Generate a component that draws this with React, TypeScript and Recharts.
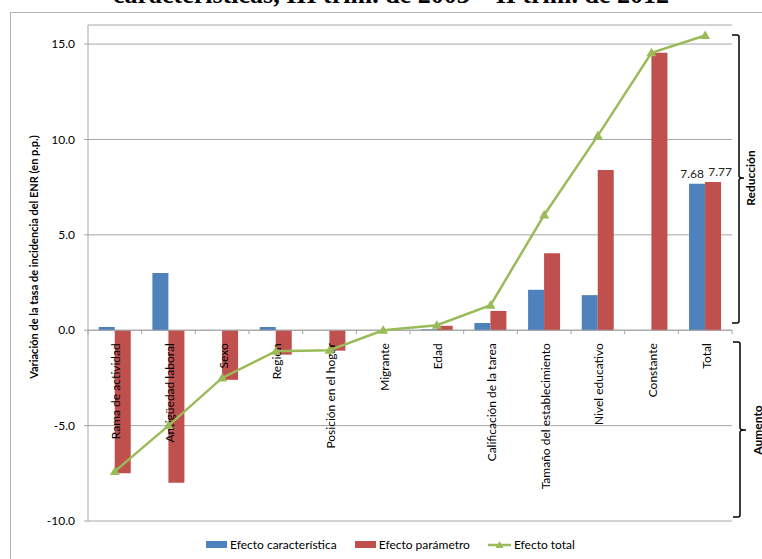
import React from 'react';
import { ComposedChart, Bar, Line, XAxis, YAxis, CartesianGrid, ReferenceLine, LabelList } from 'recharts';

const categories = [
  'Rama de actividad',
  'Antigüedad laboral',
  'Sexo',
  'Región',
  'Posición en el hogar',
  'Migrante',
  'Edad',
  'Calificación de la tarea',
  'Tamaño del establecimiento',
  'Nivel educativo',
  'Constante',
  'Total',
];
const efectoCaracteristica = [0.17, 3.0, 0.0, 0.17, 0.0, 0.0, 0.05, 0.38, 2.12, 1.84, 0.0, 7.68];
const efectoParametro = [-7.5, -8.0, -2.6, -1.28, -1.07, 0.0, 0.23, 1.01, 4.04, 8.4, 14.54, 7.77];
const efectoTotal = [-7.4, -5.0, -2.5, -1.1, -1.05, 0.0, 0.26, 1.31, 6.04, 10.2, 14.54, 15.45];
const etiquetaCaracteristica = [null, null, null, null, null, null, null, null, null, null, null, 7.68];
const etiquetaParametro = [null, null, null, null, null, null, null, null, null, null, null, 7.77];
const yTicks = [-10, -5, 0, 5, 10, 15];

const data = categories.map((name, i) => ({
  name,
  car: efectoCaracteristica[i],
  par: efectoParametro[i],
  total: efectoTotal[i],
  carLabel: etiquetaCaracteristica[i],
  parLabel: etiquetaParametro[i],
}));

const FONT = 'Lato, "Liberation Sans", sans-serif';
const BLUE = '#4F81BD';
const RED = '#C0504D';
const GREEN = '#9BBB59';
const GRID = '#a6a6a6';

const legendItems = [
  { label: 'Efecto característica', color: BLUE, kind: 'rect' },
  { label: 'Efecto parámetro', color: RED, kind: 'rect' },
  { label: 'Efecto total', color: GREEN, kind: 'line' },
];

const Triangle = (props: any) => {
  const { cx, cy } = props;
  if (cx == null || cy == null) return null;
  return <path d={`M${cx},${cy - 5} L${cx + 5},${cy + 3.5} L${cx - 5},${cy + 3.5} Z`} fill={GREEN} />;
};

// category names + boundary ticks hang off the zero line
const CategoryAxis = (props: any) => {
  const vb = props.viewBox;
  if (!vb) return null;
  const step = vb.width / categories.length;
  const y0 = vb.y;
  return (
    <g>
      {categories.map((_, i) => (
        <line key={'t' + i} x1={vb.x + step * i} x2={vb.x + step * i} y1={y0} y2={y0 + 4} stroke={GRID} />
      ))}
      <line x1={vb.x + vb.width} x2={vb.x + vb.width} y1={y0} y2={y0 + 4} stroke={GRID} />
      {categories.map((c, i) => (
        <text
          key={c}
          transform={`translate(${vb.x + step * (i + 0.5) + 1},${y0 + 13}) rotate(-90)`}
          textAnchor="end"
          dominantBaseline="central"
          fontSize={12}
          fontFamily={FONT}
          fill="#000"
        >
          {c}
        </text>
      ))}
    </g>
  );
};

const topLabel = (dx: number) => (props: any) => {
  const { x, y, width, value } = props;
  if (value == null) return null;
  return (
    <text x={x + width / 2 + dx} y={y - 6} textAnchor="middle" fontSize={12} fontFamily={FONT} fill="#222">
      {Number(value).toFixed(2)}
    </text>
  );
};

const YTitle = (props: any) => {
  const vb = props.viewBox;
  const cx = 33;
  const cy = vb.y + vb.height / 2 - 16;
  return (
    <text
      transform={`translate(${cx},${cy}) rotate(-90)`}
      textAnchor="middle"
      dominantBaseline="central"
      fontSize={11}
      fontWeight="bold"
      fontFamily={FONT}
      fill="#000"
    >
      Variación de la tasa de incidencia del ENR (en p.p.)
    </text>
  );
};

const Brace = ({ x0, x, top, bottom, mid, tip }: any) => (
  <path
    d={`M${x0},${top} L${x - 2},${top} Q${x},${top} ${x},${top + 2} L${x},${mid - 2} Q${x},${mid} ${tip},${mid} Q${x},${mid} ${x},${mid + 2} L${x},${bottom - 2} Q${x},${bottom} ${x - 2},${bottom} L${x0},${bottom}`}
    fill="none"
    stroke="#000"
    strokeWidth={1.5}
  />
);

export default function App() {
  return (
    <div style={{ position: 'absolute', left: 0, top: 0, width: 762, height: 559, overflow: 'hidden', background: '#fff' }}>
      <div
        style={{
          position: 'absolute',
          left: 0,
          width: 762,
          top: -20,
          textAlign: 'center',
          fontFamily: '"Liberation Serif", serif',
          fontWeight: 'bold',
          fontSize: 26,
          lineHeight: '30px',
          whiteSpace: 'nowrap',
          paddingLeft: 10,
        }}
      >
        características, III trim. de 2003 – II trim. de 2012
      </div>
      <div style={{ position: 'absolute', left: 10, top: 12, width: 800, height: 600, border: '1px solid #b0b0b0' }} />
      <div style={{ position: 'absolute', left: 0, top: 0 }}>
        <ComposedChart
          width={762}
          height={559}
          data={data}
          margin={{ top: 25, right: 30, left: 0, bottom: 38 }}
          barCategoryGap="20%"
          barGap={0}
        >
          <CartesianGrid vertical={false} stroke={GRID} />
          <XAxis dataKey="name" hide />
          <YAxis
            domain={[-10, 16]}
            ticks={yTicks}
            width={88}
            tickFormatter={(v: number) => v.toFixed(1)}
            axisLine={{ stroke: GRID }}
            tickLine={{ stroke: GRID }}
            tickSize={4}
            tickMargin={9}
            tick={{ fontSize: 12, fontFamily: FONT, fill: '#000' }}
            label={<YTitle />}
          />
          <Bar dataKey="car" name="Efecto característica" fill={BLUE} isAnimationActive={false}>
            <LabelList dataKey="carLabel" content={topLabel(-5)} />
          </Bar>
          <Bar dataKey="par" name="Efecto parámetro" fill={RED} isAnimationActive={false}>
            <LabelList dataKey="parLabel" content={topLabel(7)} />
          </Bar>
          <ReferenceLine y={0} stroke={GRID} label={(p: any) => <CategoryAxis {...p} />} />
          <Line
            dataKey="total"
            name="Efecto total"
            type="linear"
            stroke={GREEN}
            strokeWidth={2.5}
            dot={<Triangle />}
            activeDot={false}
            isAnimationActive={false}
          />
        </ComposedChart>
      </div>
      <svg width={762} height={559} style={{ position: 'absolute', left: 0, top: 0, pointerEvents: 'none' }}>
        <Brace x0={732} x={739} top={35} bottom={323} mid={178} tip={744} />
        <Brace x0={733} x={740} top={342} bottom={517} mid={430} tip={746} />
        <text
          transform="translate(750,178) rotate(-90)"
          textAnchor="middle"
          dominantBaseline="central"
          fontSize={12}
          fontWeight="bold"
          fontFamily={FONT}
        >
          Reducción
        </text>
        <text
          transform="translate(757,430) rotate(-90)"
          textAnchor="middle"
          dominantBaseline="central"
          fontSize={12}
          fontWeight="bold"
          fontFamily={FONT}
        >
          Aumento
        </text>
      </svg>
      <div
        style={{
          position: 'absolute',
          left: 206,
          top: 537,
          display: 'flex',
          alignItems: 'center',
          gap: 18,
          fontFamily: FONT,
          fontSize: 12,
          color: '#000',
          whiteSpace: 'nowrap',
        }}
      >
        {legendItems.map((it) => (
          <div key={it.label} style={{ display: 'flex', alignItems: 'center' }}>
            {it.kind === 'rect' ? (
              <div style={{ width: 21, height: 7, background: it.color }} />
            ) : (
              <svg width={23} height={10}>
                <line x1={0} x2={23} y1={5} y2={5} stroke={it.color} strokeWidth={2.5} />
                <path d="M11.5,1 L15.5,8 L7.5,8 Z" fill={it.color} />
              </svg>
            )}
            <span style={{ marginLeft: 3 }}>{it.label}</span>
          </div>
        ))}
      </div>
    </div>
  );
}
